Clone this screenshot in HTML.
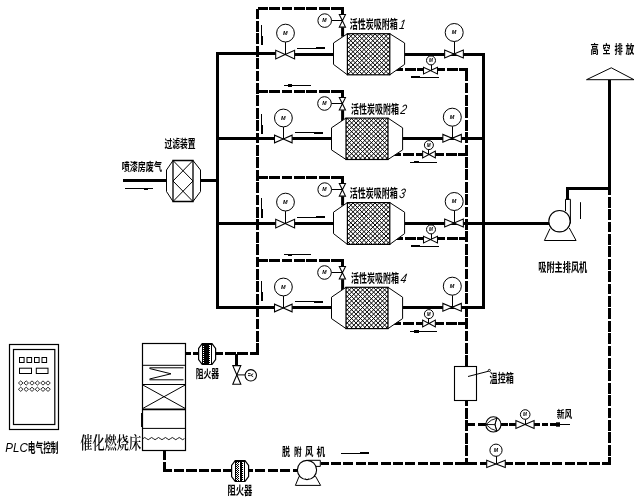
<!DOCTYPE html>
<html lang="zh">
<head>
<meta charset="utf-8">
<title>活性炭吸附脱附催化燃烧工艺流程图</title>
<style>
html,body{margin:0;padding:0;background:#fff;}
body{width:642px;height:502px;overflow:hidden;}
svg{display:block;will-change:transform;}
text{font-family:"Liberation Sans","Noto Sans CJK SC",sans-serif;fill:#000;font-weight:700;}
</style>
</head>
<body>
<svg width="642" height="502" viewBox="0 0 642 502">
<rect width="642" height="502" fill="#fff"/>
<g shape-rendering="crispEdges">
<rect x="123.00" y="179.00" width="43.00" height="3"/>
<rect x="201.00" y="179.00" width="16.50" height="3"/>
<rect x="216.00" y="52.00" width="3" height="257.00"/>
<rect x="482.00" y="53.00" width="3" height="256.00"/>
<rect x="217.50" y="52.00" width="58.20" height="3"/>
<rect x="294.60" y="53.00" width="38.90" height="3"/>
<rect x="404.60" y="53.00" width="78.90" height="3"/>
<rect x="217.50" y="137.00" width="57.00" height="3"/>
<rect x="292.10" y="137.00" width="39.40" height="3"/>
<rect x="402.60" y="137.00" width="80.90" height="3"/>
<rect x="217.50" y="222.00" width="58.20" height="3"/>
<rect x="294.60" y="222.00" width="38.90" height="3"/>
<rect x="404.60" y="222.00" width="78.90" height="3"/>
<rect x="217.50" y="306.00" width="57.00" height="3"/>
<rect x="292.10" y="306.00" width="39.40" height="3"/>
<rect x="402.60" y="306.00" width="80.90" height="3"/>
<rect x="483.50" y="222.00" width="65.00" height="3"/>
<rect x="566.00" y="187.00" width="3" height="12.50"/>
<rect x="566.00" y="187.00" width="45.00" height="3"/>
<rect x="608.00" y="80.00" width="3" height="114.70"/>
</g>
<path d="M257.50 7.00V355.00" stroke="#000" stroke-width="3" stroke-dasharray="10.75 1.65" stroke-dashoffset="10.80" fill="none" shape-rendering="crispEdges"/>
<path d="M257.50 8.50H344.00" stroke="#000" stroke-width="3" stroke-dasharray="10.75 1.65" stroke-dashoffset="0.70" fill="none" shape-rendering="crispEdges"/>
<rect x="341.00" y="7.00" width="3" height="7.50"/>
<rect x="341.10" y="27.30" width="3" height="9.40"/>
<path d="M395.60 69.50H423.50" stroke="#000" stroke-width="3" stroke-dasharray="10.75 1.65" stroke-dashoffset="3.00" fill="none" shape-rendering="crispEdges"/>
<path d="M437.50 69.50H468.00" stroke="#000" stroke-width="3" stroke-dasharray="10.75 1.65" stroke-dashoffset="3.00" fill="none" shape-rendering="crispEdges"/>
<path d="M257.50 91.50H344.00" stroke="#000" stroke-width="3" stroke-dasharray="10.75 1.65" stroke-dashoffset="0.70" fill="none" shape-rendering="crispEdges"/>
<rect x="341.00" y="90.00" width="3" height="7.40"/>
<rect x="341.10" y="110.20" width="3" height="10.90"/>
<path d="M394.20 154.50H422.65" stroke="#000" stroke-width="3" stroke-dasharray="10.75 1.65" stroke-dashoffset="3.50" fill="none" shape-rendering="crispEdges"/>
<path d="M435.35 154.50H468.00" stroke="#000" stroke-width="3" stroke-dasharray="10.75 1.65" stroke-dashoffset="1.75" fill="none" shape-rendering="crispEdges"/>
<path d="M257.50 177.50H344.00" stroke="#000" stroke-width="3" stroke-dasharray="10.75 1.65" stroke-dashoffset="0.70" fill="none" shape-rendering="crispEdges"/>
<rect x="341.00" y="176.00" width="3" height="7.50"/>
<rect x="341.10" y="196.30" width="3" height="9.30"/>
<path d="M395.60 238.50H423.50" stroke="#000" stroke-width="3" stroke-dasharray="10.75 1.65" stroke-dashoffset="3.00" fill="none" shape-rendering="crispEdges"/>
<path d="M437.50 238.50H468.00" stroke="#000" stroke-width="3" stroke-dasharray="10.75 1.65" stroke-dashoffset="3.00" fill="none" shape-rendering="crispEdges"/>
<path d="M257.50 260.50H344.00" stroke="#000" stroke-width="3" stroke-dasharray="10.75 1.65" stroke-dashoffset="0.70" fill="none" shape-rendering="crispEdges"/>
<rect x="341.00" y="259.00" width="3" height="7.40"/>
<rect x="341.10" y="279.20" width="3" height="11.10"/>
<path d="M394.20 323.50H422.65" stroke="#000" stroke-width="3" stroke-dasharray="10.75 1.65" stroke-dashoffset="3.50" fill="none" shape-rendering="crispEdges"/>
<path d="M435.35 323.50H468.00" stroke="#000" stroke-width="3" stroke-dasharray="10.75 1.65" stroke-dashoffset="1.75" fill="none" shape-rendering="crispEdges"/>
<path d="M466.50 68.00V366.00" stroke="#000" stroke-width="3" stroke-dasharray="10.75 1.65" stroke-dashoffset="10.20" fill="none" shape-rendering="crispEdges"/>
<path d="M466.50 400.50V465.00" stroke="#000" stroke-width="3" stroke-dasharray="10.75 1.65" stroke-dashoffset="4.90" fill="none" shape-rendering="crispEdges"/>
<path d="M185.50 353.50H198.50" stroke="#000" stroke-width="3" stroke-dasharray="10.75 1.65" stroke-dashoffset="4.80" fill="none" shape-rendering="crispEdges"/>
<path d="M216.00 353.50H259.00" stroke="#000" stroke-width="3" stroke-dasharray="10.75 1.65" stroke-dashoffset="3.50" fill="none" shape-rendering="crispEdges"/>
<rect x="235.00" y="354.00" width="3" height="12.00"/>
<path d="M164.50 450.50V472.00" stroke="#000" stroke-width="3" stroke-dasharray="10 2.4" stroke-dashoffset="0.70" fill="none" shape-rendering="crispEdges"/>
<path d="M163.00 470.50H231.00" stroke="#000" stroke-width="3" stroke-dasharray="10.4 1.95" stroke-dashoffset="1.40" fill="none" shape-rendering="crispEdges"/>
<path d="M249.00 470.50H298.00" stroke="#000" stroke-width="3" stroke-dasharray="10 2.4" stroke-dashoffset="6.00" fill="none" shape-rendering="crispEdges"/>
<path d="M320.80 463.50H487.00" stroke="#000" stroke-width="3" stroke-dasharray="10 2.4" stroke-dashoffset="2.30" fill="none" shape-rendering="crispEdges"/>
<path d="M505.00 463.50H611.00" stroke="#000" stroke-width="3" stroke-dasharray="10.2 2.2" stroke-dashoffset="2.40" fill="none" shape-rendering="crispEdges"/>
<path d="M609.50 194.70V465.00" stroke="#000" stroke-width="3" stroke-dasharray="10.75 1.65" stroke-dashoffset="10.30" fill="none" shape-rendering="crispEdges"/>
<g shape-rendering="crispEdges">
<rect x="465.00" y="423.00" width="10.00" height="3"/>
<rect x="477.50" y="423.00" width="8.50" height="3"/>
<rect x="501.00" y="423.00" width="7.00" height="3"/>
<rect x="509.30" y="423.00" width="6.50" height="3"/>
<rect x="534.30" y="423.00" width="5.20" height="3"/>
<rect x="541.50" y="423.00" width="6.30" height="3"/>
<rect x="550.00" y="423.00" width="6.00" height="3"/>
</g>
<path d="M347.40 33.70L333.50 43.00L333.50 64.40L347.40 74.80" fill="#fff" stroke="#000" stroke-width="1"/>
<path d="M389.80 33.70L404.60 43.00L404.60 64.40L389.80 74.80" fill="#fff" stroke="#000" stroke-width="1"/>
<clipPath id="mc0"><rect x="347.40" y="33.70" width="42.40" height="41.10"/></clipPath>
<path d="M304.20 33.70l41.10 41.10M308.60 33.70l41.10 41.10M313.00 33.70l41.10 41.10M317.40 33.70l41.10 41.10M321.80 33.70l41.10 41.10M326.20 33.70l41.10 41.10M330.60 33.70l41.10 41.10M335.00 33.70l41.10 41.10M339.40 33.70l41.10 41.10M343.80 33.70l41.10 41.10M348.20 33.70l41.10 41.10M352.60 33.70l41.10 41.10M357.00 33.70l41.10 41.10M361.40 33.70l41.10 41.10M365.80 33.70l41.10 41.10M370.20 33.70l41.10 41.10M374.60 33.70l41.10 41.10M379.00 33.70l41.10 41.10M383.40 33.70l41.10 41.10M387.80 33.70l41.10 41.10M392.20 33.70l41.10 41.10M349.00 33.70l-41.10 41.10M353.40 33.70l-41.10 41.10M357.80 33.70l-41.10 41.10M362.20 33.70l-41.10 41.10M366.60 33.70l-41.10 41.10M371.00 33.70l-41.10 41.10M375.40 33.70l-41.10 41.10M379.80 33.70l-41.10 41.10M384.20 33.70l-41.10 41.10M388.60 33.70l-41.10 41.10M393.00 33.70l-41.10 41.10M397.40 33.70l-41.10 41.10M401.80 33.70l-41.10 41.10M406.20 33.70l-41.10 41.10M410.60 33.70l-41.10 41.10M415.00 33.70l-41.10 41.10M419.40 33.70l-41.10 41.10M423.80 33.70l-41.10 41.10M428.20 33.70l-41.10 41.10M432.60 33.70l-41.10 41.10M437.00 33.70l-41.10 41.10M441.40 33.70l-41.10 41.10" clip-path="url(#mc0)" stroke="#000" stroke-width="1.0" fill="none"/>
<rect x="347.40" y="33.70" width="42.40" height="41.10" fill="none" stroke="#000" stroke-width="1.2"/>
<rect x="285.00" y="42.10" width="1" height="12.50"/>
<path d="M275.70 50.30L275.70 58.90L285.15 54.60Z" fill="#fff" stroke="#000" stroke-width="1.05"/>
<path d="M294.60 50.30L294.60 58.90L285.15 54.60Z" fill="#fff" stroke="#000" stroke-width="1.05"/>
<circle cx="285.50" cy="33.10" r="8.90" fill="#fff" stroke="#000" stroke-width="1.0"/>
<text x="285.30" y="35.08" font-size="5.50" style='font-style:italic;font-weight:700;' text-anchor="middle">M</text>
<rect x="454.00" y="41.50" width="1" height="12.50"/>
<path d="M444.65 50.10L444.65 57.90L454.00 54.00Z" fill="#fff" stroke="#000" stroke-width="1.05"/>
<path d="M463.35 50.10L463.35 57.90L454.00 54.00Z" fill="#fff" stroke="#000" stroke-width="1.05"/>
<circle cx="454.20" cy="32.50" r="9.00" fill="#fff" stroke="#000" stroke-width="1.0"/>
<text x="454.00" y="34.48" font-size="5.50" style='font-style:italic;font-weight:700;' text-anchor="middle">M</text>
<rect x="431.00" y="65.00" width="1" height="5.60"/>
<path d="M423.50 67.30L423.50 73.90L430.50 70.60Z" fill="#fff" stroke="#000" stroke-width="1.05"/>
<path d="M437.50 67.30L437.50 73.90L430.50 70.60Z" fill="#fff" stroke="#000" stroke-width="1.05"/>
<circle cx="431.00" cy="60.40" r="4.50" fill="#fff" stroke="#000" stroke-width="1.0"/>
<text x="430.80" y="62.06" font-size="4.60" style='font-style:italic;font-weight:700;' text-anchor="middle">M</text>
<rect x="331.40" y="20.00" width="11.00" height="1"/>
<path d="M339.30 14.50L345.50 14.50L342.40 20.80Z" fill="#fff" stroke="#000" stroke-width="1.05"/>
<path d="M339.30 27.10L345.50 27.10L342.40 20.80Z" fill="#fff" stroke="#000" stroke-width="1.05"/>
<circle cx="324.70" cy="20.60" r="6.80" fill="#fff" stroke="#000" stroke-width="1.0"/>
<text x="324.50" y="22.47" font-size="5.20" style='font-style:italic;font-weight:700;' text-anchor="middle">M</text>
<g shape-rendering="crispEdges">
<rect x="297.00" y="48.00" width="28.00" height="1"/>
<rect x="316.00" y="47.00" width="9.00" height="2"/>
<rect x="261.00" y="25.00" width="1" height="20.00"/>
<rect x="261.00" y="36.00" width="2" height="9.00"/>
<rect x="411.00" y="77.00" width="28.00" height="1"/>
<rect x="411.00" y="76.00" width="9.00" height="2"/>
</g>
<text x="349.70" y="28.50" font-size="12.50" textLength="48.10" lengthAdjust="spacingAndGlyphs">活性炭吸附箱</text>
<g transform="translate(398.70 28.80) skewX(-10)">
<text x="0.00" y="0.00" font-size="13.50" textLength="6.00" lengthAdjust="spacingAndGlyphs" style='font-style:italic;font-weight:400;'>1</text>
</g>
<path d="M346.00 118.10L331.50 127.80L331.50 149.90L346.00 159.50" fill="#fff" stroke="#000" stroke-width="1"/>
<path d="M388.00 118.10L402.60 127.80L402.60 149.90L388.00 159.50" fill="#fff" stroke="#000" stroke-width="1"/>
<clipPath id="mc1"><rect x="346.00" y="118.10" width="42.00" height="41.40"/></clipPath>
<path d="M302.80 118.10l41.40 41.40M307.20 118.10l41.40 41.40M311.60 118.10l41.40 41.40M316.00 118.10l41.40 41.40M320.40 118.10l41.40 41.40M324.80 118.10l41.40 41.40M329.20 118.10l41.40 41.40M333.60 118.10l41.40 41.40M338.00 118.10l41.40 41.40M342.40 118.10l41.40 41.40M346.80 118.10l41.40 41.40M351.20 118.10l41.40 41.40M355.60 118.10l41.40 41.40M360.00 118.10l41.40 41.40M364.40 118.10l41.40 41.40M368.80 118.10l41.40 41.40M373.20 118.10l41.40 41.40M377.60 118.10l41.40 41.40M382.00 118.10l41.40 41.40M386.40 118.10l41.40 41.40M390.80 118.10l41.40 41.40M347.60 118.10l-41.40 41.40M352.00 118.10l-41.40 41.40M356.40 118.10l-41.40 41.40M360.80 118.10l-41.40 41.40M365.20 118.10l-41.40 41.40M369.60 118.10l-41.40 41.40M374.00 118.10l-41.40 41.40M378.40 118.10l-41.40 41.40M382.80 118.10l-41.40 41.40M387.20 118.10l-41.40 41.40M391.60 118.10l-41.40 41.40M396.00 118.10l-41.40 41.40M400.40 118.10l-41.40 41.40M404.80 118.10l-41.40 41.40M409.20 118.10l-41.40 41.40M413.60 118.10l-41.40 41.40M418.00 118.10l-41.40 41.40M422.40 118.10l-41.40 41.40M426.80 118.10l-41.40 41.40M431.20 118.10l-41.40 41.40M435.60 118.10l-41.40 41.40M440.00 118.10l-41.40 41.40" clip-path="url(#mc1)" stroke="#000" stroke-width="1.0" fill="none"/>
<rect x="346.00" y="118.10" width="42.00" height="41.40" fill="none" stroke="#000" stroke-width="1.2"/>
<rect x="283.00" y="127.00" width="1" height="12.00"/>
<path d="M274.50 135.15L274.50 142.85L283.30 139.00Z" fill="#fff" stroke="#000" stroke-width="1.05"/>
<path d="M292.10 135.15L292.10 142.85L283.30 139.00Z" fill="#fff" stroke="#000" stroke-width="1.05"/>
<circle cx="283.40" cy="118.00" r="8.90" fill="#fff" stroke="#000" stroke-width="1.0"/>
<text x="283.20" y="119.98" font-size="5.50" style='font-style:italic;font-weight:700;' text-anchor="middle">M</text>
<rect x="452.00" y="126.20" width="1" height="12.10"/>
<path d="M442.85 134.40L442.85 142.20L452.10 138.30Z" fill="#fff" stroke="#000" stroke-width="1.05"/>
<path d="M461.35 134.40L461.35 142.20L452.10 138.30Z" fill="#fff" stroke="#000" stroke-width="1.05"/>
<circle cx="452.30" cy="117.20" r="9.00" fill="#fff" stroke="#000" stroke-width="1.0"/>
<text x="452.10" y="119.18" font-size="5.50" style='font-style:italic;font-weight:700;' text-anchor="middle">M</text>
<rect x="428.00" y="149.70" width="1" height="4.80"/>
<path d="M422.65 151.15L422.65 157.85L429.00 154.50Z" fill="#fff" stroke="#000" stroke-width="1.05"/>
<path d="M435.35 151.15L435.35 157.85L429.00 154.50Z" fill="#fff" stroke="#000" stroke-width="1.05"/>
<circle cx="428.90" cy="145.10" r="4.50" fill="#fff" stroke="#000" stroke-width="1.0"/>
<text x="428.70" y="146.76" font-size="4.60" style='font-style:italic;font-weight:700;' text-anchor="middle">M</text>
<rect x="331.20" y="103.00" width="11.20" height="1"/>
<path d="M339.30 97.40L345.50 97.40L342.40 103.70Z" fill="#fff" stroke="#000" stroke-width="1.05"/>
<path d="M339.30 110.00L345.50 110.00L342.40 103.70Z" fill="#fff" stroke="#000" stroke-width="1.05"/>
<circle cx="324.50" cy="103.50" r="6.80" fill="#fff" stroke="#000" stroke-width="1.0"/>
<text x="324.30" y="105.37" font-size="5.20" style='font-style:italic;font-weight:700;' text-anchor="middle">M</text>
<g shape-rendering="crispEdges">
<rect x="295.00" y="132.00" width="28.00" height="1"/>
<rect x="313.60" y="132.00" width="9.40" height="2"/>
<rect x="261.00" y="114.00" width="1" height="20.00"/>
<rect x="261.00" y="125.00" width="2" height="9.00"/>
<rect x="410.00" y="162.00" width="27.00" height="1"/>
<rect x="414.00" y="161.00" width="5.00" height="1"/>
<rect x="284.00" y="85.00" width="27.00" height="1"/>
<rect x="288.00" y="84.00" width="4.00" height="3"/>
</g>
<text x="350.90" y="113.56" font-size="12.00" textLength="48.10" lengthAdjust="spacingAndGlyphs">活性炭吸附箱</text>
<g transform="translate(399.90 113.80) skewX(-10)">
<text x="0.00" y="0.00" font-size="13.50" textLength="6.00" lengthAdjust="spacingAndGlyphs" style='font-style:italic;font-weight:400;'>2</text>
</g>
<path d="M347.40 202.60L333.50 212.20L333.50 233.60L347.40 244.40" fill="#fff" stroke="#000" stroke-width="1"/>
<path d="M389.80 202.60L404.60 212.20L404.60 233.60L389.80 244.40" fill="#fff" stroke="#000" stroke-width="1"/>
<clipPath id="mc2"><rect x="347.40" y="202.60" width="42.40" height="41.80"/></clipPath>
<path d="M304.20 202.60l41.80 41.80M308.60 202.60l41.80 41.80M313.00 202.60l41.80 41.80M317.40 202.60l41.80 41.80M321.80 202.60l41.80 41.80M326.20 202.60l41.80 41.80M330.60 202.60l41.80 41.80M335.00 202.60l41.80 41.80M339.40 202.60l41.80 41.80M343.80 202.60l41.80 41.80M348.20 202.60l41.80 41.80M352.60 202.60l41.80 41.80M357.00 202.60l41.80 41.80M361.40 202.60l41.80 41.80M365.80 202.60l41.80 41.80M370.20 202.60l41.80 41.80M374.60 202.60l41.80 41.80M379.00 202.60l41.80 41.80M383.40 202.60l41.80 41.80M387.80 202.60l41.80 41.80M392.20 202.60l41.80 41.80M349.00 202.60l-41.80 41.80M353.40 202.60l-41.80 41.80M357.80 202.60l-41.80 41.80M362.20 202.60l-41.80 41.80M366.60 202.60l-41.80 41.80M371.00 202.60l-41.80 41.80M375.40 202.60l-41.80 41.80M379.80 202.60l-41.80 41.80M384.20 202.60l-41.80 41.80M388.60 202.60l-41.80 41.80M393.00 202.60l-41.80 41.80M397.40 202.60l-41.80 41.80M401.80 202.60l-41.80 41.80M406.20 202.60l-41.80 41.80M410.60 202.60l-41.80 41.80M415.00 202.60l-41.80 41.80M419.40 202.60l-41.80 41.80M423.80 202.60l-41.80 41.80M428.20 202.60l-41.80 41.80M432.60 202.60l-41.80 41.80M437.00 202.60l-41.80 41.80M441.40 202.60l-41.80 41.80" clip-path="url(#mc2)" stroke="#000" stroke-width="1.0" fill="none"/>
<rect x="347.40" y="202.60" width="42.40" height="41.80" fill="none" stroke="#000" stroke-width="1.2"/>
<rect x="285.00" y="211.10" width="1" height="12.50"/>
<path d="M275.70 219.30L275.70 227.90L285.15 223.60Z" fill="#fff" stroke="#000" stroke-width="1.05"/>
<path d="M294.60 219.30L294.60 227.90L285.15 223.60Z" fill="#fff" stroke="#000" stroke-width="1.05"/>
<circle cx="285.50" cy="202.10" r="8.90" fill="#fff" stroke="#000" stroke-width="1.0"/>
<text x="285.30" y="204.08" font-size="5.50" style='font-style:italic;font-weight:700;' text-anchor="middle">M</text>
<rect x="454.00" y="210.50" width="1" height="12.50"/>
<path d="M444.65 219.10L444.65 226.90L454.00 223.00Z" fill="#fff" stroke="#000" stroke-width="1.05"/>
<path d="M463.35 219.10L463.35 226.90L454.00 223.00Z" fill="#fff" stroke="#000" stroke-width="1.05"/>
<circle cx="454.20" cy="201.50" r="9.00" fill="#fff" stroke="#000" stroke-width="1.0"/>
<text x="454.00" y="203.48" font-size="5.50" style='font-style:italic;font-weight:700;' text-anchor="middle">M</text>
<rect x="431.00" y="234.00" width="1" height="5.60"/>
<path d="M423.50 236.30L423.50 242.90L430.50 239.60Z" fill="#fff" stroke="#000" stroke-width="1.05"/>
<path d="M437.50 236.30L437.50 242.90L430.50 239.60Z" fill="#fff" stroke="#000" stroke-width="1.05"/>
<circle cx="431.00" cy="229.40" r="4.50" fill="#fff" stroke="#000" stroke-width="1.0"/>
<text x="430.80" y="231.06" font-size="4.60" style='font-style:italic;font-weight:700;' text-anchor="middle">M</text>
<rect x="331.40" y="189.00" width="11.00" height="1"/>
<path d="M339.30 183.50L345.50 183.50L342.40 189.80Z" fill="#fff" stroke="#000" stroke-width="1.05"/>
<path d="M339.30 196.10L345.50 196.10L342.40 189.80Z" fill="#fff" stroke="#000" stroke-width="1.05"/>
<circle cx="324.70" cy="189.60" r="6.80" fill="#fff" stroke="#000" stroke-width="1.0"/>
<text x="324.50" y="191.47" font-size="5.20" style='font-style:italic;font-weight:700;' text-anchor="middle">M</text>
<g shape-rendering="crispEdges">
<rect x="297.00" y="217.00" width="28.00" height="1"/>
<rect x="316.00" y="216.00" width="9.00" height="2"/>
<rect x="261.00" y="198.00" width="1" height="20.00"/>
<rect x="261.00" y="209.00" width="2" height="9.00"/>
<rect x="411.00" y="246.00" width="28.00" height="1"/>
<rect x="411.00" y="245.00" width="9.00" height="2"/>
</g>
<text x="349.70" y="197.54" font-size="12.20" textLength="48.10" lengthAdjust="spacingAndGlyphs">活性炭吸附箱</text>
<g transform="translate(398.70 197.80) skewX(-10)">
<text x="0.00" y="0.00" font-size="13.50" textLength="6.00" lengthAdjust="spacingAndGlyphs" style='font-style:italic;font-weight:400;'>3</text>
</g>
<path d="M346.00 287.30L331.50 297.20L331.50 318.60L346.00 328.60" fill="#fff" stroke="#000" stroke-width="1"/>
<path d="M388.00 287.30L402.60 297.20L402.60 318.60L388.00 328.60" fill="#fff" stroke="#000" stroke-width="1"/>
<clipPath id="mc3"><rect x="346.00" y="287.30" width="42.00" height="41.30"/></clipPath>
<path d="M302.80 287.30l41.30 41.30M307.20 287.30l41.30 41.30M311.60 287.30l41.30 41.30M316.00 287.30l41.30 41.30M320.40 287.30l41.30 41.30M324.80 287.30l41.30 41.30M329.20 287.30l41.30 41.30M333.60 287.30l41.30 41.30M338.00 287.30l41.30 41.30M342.40 287.30l41.30 41.30M346.80 287.30l41.30 41.30M351.20 287.30l41.30 41.30M355.60 287.30l41.30 41.30M360.00 287.30l41.30 41.30M364.40 287.30l41.30 41.30M368.80 287.30l41.30 41.30M373.20 287.30l41.30 41.30M377.60 287.30l41.30 41.30M382.00 287.30l41.30 41.30M386.40 287.30l41.30 41.30M390.80 287.30l41.30 41.30M347.60 287.30l-41.30 41.30M352.00 287.30l-41.30 41.30M356.40 287.30l-41.30 41.30M360.80 287.30l-41.30 41.30M365.20 287.30l-41.30 41.30M369.60 287.30l-41.30 41.30M374.00 287.30l-41.30 41.30M378.40 287.30l-41.30 41.30M382.80 287.30l-41.30 41.30M387.20 287.30l-41.30 41.30M391.60 287.30l-41.30 41.30M396.00 287.30l-41.30 41.30M400.40 287.30l-41.30 41.30M404.80 287.30l-41.30 41.30M409.20 287.30l-41.30 41.30M413.60 287.30l-41.30 41.30M418.00 287.30l-41.30 41.30M422.40 287.30l-41.30 41.30M426.80 287.30l-41.30 41.30M431.20 287.30l-41.30 41.30M435.60 287.30l-41.30 41.30M440.00 287.30l-41.30 41.30" clip-path="url(#mc3)" stroke="#000" stroke-width="1.0" fill="none"/>
<rect x="346.00" y="287.30" width="42.00" height="41.30" fill="none" stroke="#000" stroke-width="1.2"/>
<rect x="283.00" y="296.00" width="1" height="12.00"/>
<path d="M274.50 304.15L274.50 311.85L283.30 308.00Z" fill="#fff" stroke="#000" stroke-width="1.05"/>
<path d="M292.10 304.15L292.10 311.85L283.30 308.00Z" fill="#fff" stroke="#000" stroke-width="1.05"/>
<circle cx="283.40" cy="287.00" r="8.90" fill="#fff" stroke="#000" stroke-width="1.0"/>
<text x="283.20" y="288.98" font-size="5.50" style='font-style:italic;font-weight:700;' text-anchor="middle">M</text>
<rect x="452.00" y="295.20" width="1" height="12.10"/>
<path d="M442.85 303.40L442.85 311.20L452.10 307.30Z" fill="#fff" stroke="#000" stroke-width="1.05"/>
<path d="M461.35 303.40L461.35 311.20L452.10 307.30Z" fill="#fff" stroke="#000" stroke-width="1.05"/>
<circle cx="452.30" cy="286.20" r="9.00" fill="#fff" stroke="#000" stroke-width="1.0"/>
<text x="452.10" y="288.18" font-size="5.50" style='font-style:italic;font-weight:700;' text-anchor="middle">M</text>
<rect x="428.00" y="318.70" width="1" height="4.80"/>
<path d="M422.65 320.15L422.65 326.85L429.00 323.50Z" fill="#fff" stroke="#000" stroke-width="1.05"/>
<path d="M435.35 320.15L435.35 326.85L429.00 323.50Z" fill="#fff" stroke="#000" stroke-width="1.05"/>
<circle cx="428.90" cy="314.10" r="4.50" fill="#fff" stroke="#000" stroke-width="1.0"/>
<text x="428.70" y="315.76" font-size="4.60" style='font-style:italic;font-weight:700;' text-anchor="middle">M</text>
<rect x="331.20" y="272.00" width="11.20" height="1"/>
<path d="M339.30 266.40L345.50 266.40L342.40 272.70Z" fill="#fff" stroke="#000" stroke-width="1.05"/>
<path d="M339.30 279.00L345.50 279.00L342.40 272.70Z" fill="#fff" stroke="#000" stroke-width="1.05"/>
<circle cx="324.50" cy="272.50" r="6.80" fill="#fff" stroke="#000" stroke-width="1.0"/>
<text x="324.30" y="274.37" font-size="5.20" style='font-style:italic;font-weight:700;' text-anchor="middle">M</text>
<g shape-rendering="crispEdges">
<rect x="295.00" y="301.00" width="28.00" height="1"/>
<rect x="313.60" y="301.00" width="9.40" height="2"/>
<rect x="261.00" y="281.00" width="1" height="20.00"/>
<rect x="261.00" y="292.00" width="2" height="9.00"/>
<rect x="410.00" y="331.00" width="27.00" height="1"/>
<rect x="414.00" y="330.00" width="5.00" height="3"/>
<rect x="284.00" y="254.00" width="27.00" height="1"/>
<rect x="288.00" y="255.00" width="4.00" height="1"/>
</g>
<text x="350.90" y="283.00" font-size="12.50" textLength="48.10" lengthAdjust="spacingAndGlyphs">活性炭吸附箱</text>
<g transform="translate(399.90 283.30) skewX(-10)">
<text x="0.00" y="0.00" font-size="13.50" textLength="6.00" lengthAdjust="spacingAndGlyphs" style='font-style:italic;font-weight:400;'>4</text>
</g>
<path d="M173.00 160.50L166.50 170.00L166.50 191.50L173.00 201.50L193.00 201.50L200.50 191.50L200.50 170.00L193.00 160.50Z" fill="#fff" stroke="#000" stroke-width="1"/>
<path d="M173.00 160.50L193.00 160.50L193.00 201.50L173.00 201.50Z" fill="#fff" stroke="#000" stroke-width="1.3"/>
<path d="M173.00 160.50L193.00 181.00L173.00 201.50" fill="none" stroke="#000" stroke-width="1"/>
<path d="M193.00 160.50L173.00 181.00L193.00 201.50" fill="none" stroke="#000" stroke-width="1"/>
<text x="164.40" y="147.74" font-size="11.30" textLength="31.00" lengthAdjust="spacingAndGlyphs">过滤装置</text>
<text x="121.70" y="170.58" font-size="11.80" textLength="40.30" lengthAdjust="spacingAndGlyphs">喷漆房废气</text>
<g shape-rendering="crispEdges">
<rect x="125.00" y="188.00" width="28.00" height="1"/>
<rect x="144.00" y="189.00" width="4.00" height="1"/>
</g>
<path d="M586.50 79.70L611.30 67.80L634.00 79.70Z" fill="#fff" stroke="#000" stroke-width="1"/>
<text x="590.50" y="53.52" font-size="12.30" textLength="8.20" lengthAdjust="spacingAndGlyphs">高</text>
<text x="602.40" y="53.52" font-size="12.30" textLength="8.00" lengthAdjust="spacingAndGlyphs">空</text>
<text x="614.50" y="53.52" font-size="12.30" textLength="8.30" lengthAdjust="spacingAndGlyphs">排</text>
<text x="625.60" y="53.52" font-size="12.30" textLength="8.80" lengthAdjust="spacingAndGlyphs">放</text>
<path d="M550.00 228.60L544.40 240.50L576.10 240.50L569.30 228.00" fill="#fff" stroke="#000" stroke-width="1"/>
<circle cx="559.50" cy="221.20" r="10.70" fill="#fff" stroke="#000" stroke-width="1.1"/>
<path d="M565.50 211.00L565.50 199.30L570.40 199.30L570.40 223.60" fill="none" stroke="#000" stroke-width="1"/>
<path d="M580.50 202.20L580.50 219.00" fill="none" stroke="#000" stroke-width="1"/>
<text x="538.20" y="271.51" font-size="12.40" textLength="49.10" lengthAdjust="spacingAndGlyphs">吸附主排风机</text>
<rect x="142.5" y="343.5" width="43" height="107" fill="#fff" stroke="#000" stroke-width="1.2"/>
<path d="M142.50 365.30L185.50 365.30" fill="none" stroke="#000" stroke-width="1"/>
<path d="M142.50 384.50L185.50 384.50" fill="none" stroke="#000" stroke-width="1.2"/>
<path d="M142.50 409.40L185.50 409.40" fill="none" stroke="#000" stroke-width="1.6"/>
<path d="M142.50 428.40L185.50 428.40" fill="none" stroke="#000" stroke-width="1"/>
<path d="M149.50 367.80L183.50 367.80" fill="none" stroke="#000" stroke-width="1"/>
<path d="M149.50 368.50L171.00 373.80L149.50 379.00" fill="none" stroke="#000" stroke-width="1"/>
<path d="M149.50 379.80L183.50 379.80" fill="none" stroke="#000" stroke-width="1"/>
<path d="M142.50 384.80L185.50 408.60" fill="none" stroke="#000" stroke-width="1"/>
<path d="M142.50 408.60L185.50 384.80" fill="none" stroke="#000" stroke-width="1"/>
<rect x="141.05" y="413.00" width="1.5" height="14.00"/>
<path d="M143 438.6q1.72 -2.2 3.45 0q1.72 2.2 3.45 0q1.72 -2.2 3.45 0q1.72 2.2 3.45 0q1.72 -2.2 3.45 0q1.72 2.2 3.45 0q1.72 -2.2 3.45 0q1.72 2.2 3.45 0q1.72 -2.2 3.45 0q1.72 2.2 3.45 0q1.72 -2.2 3.45 0q1.72 2.2 3.45 0" fill="none" stroke="#000" stroke-width="0.9"/>
<text x="80.20" y="448.80" font-size="17.20" textLength="61.00" lengthAdjust="spacingAndGlyphs" style='font-weight:600;font-family:"Liberation Serif","Noto Serif CJK SC",serif;'>催化燃烧床</text>
<path d="M202.20 343.60L198.60 348.50L198.60 359.50L202.20 364.40L212.00 364.40L215.60 359.50L215.60 348.50L212.00 343.60Z" fill="#fff" stroke="#000" stroke-width="1.2"/>
<g shape-rendering="crispEdges">
<rect x="202.00" y="343.00" width="10" height="22" fill="#000"/>
<path d="M203.50 346V363" stroke="#fff" stroke-width="1" stroke-dasharray="1 1" fill="none"/>
<rect x="209.00" y="345" width="2" height="19" fill="#fff"/>
<path d="M209.50 346V363" stroke="#000" stroke-width="1" stroke-dasharray="1 1" fill="none"/>
</g>
<path d="M235.20 460.60L231.60 465.50L231.60 476.50L235.20 481.40L245.00 481.40L248.60 476.50L248.60 465.50L245.00 460.60Z" fill="#fff" stroke="#000" stroke-width="1.2"/>
<g shape-rendering="crispEdges">
<rect x="235.00" y="460.00" width="10" height="22" fill="#000"/>
<rect x="236.00" y="461.5" width="3.5" height="19.5" fill="#fff"/>
<path d="M236.50 462V481" stroke="#000" stroke-width="1" stroke-dasharray="1 1" fill="none"/>
<path d="M237.50 463V481" stroke="#000" stroke-width="1" stroke-dasharray="1 1" fill="none"/>
<path d="M238.50 462V481" stroke="#000" stroke-width="1" stroke-dasharray="1 1" fill="none"/>
<rect x="242.00" y="462" width="2" height="19" fill="#fff"/>
<path d="M242.50 463V480" stroke="#000" stroke-width="1" stroke-dasharray="1 1" fill="none"/>
</g>
<text x="195.70" y="377.86" font-size="11.20" textLength="23.50" lengthAdjust="spacingAndGlyphs">阻火器</text>
<text x="227.40" y="495.12" font-size="12.30" textLength="24.90" lengthAdjust="spacingAndGlyphs">阻火器</text>
<path d="M232.80 365.60L240.80 365.60L236.80 374.90Z" fill="#fff" stroke="#000" stroke-width="1.1"/>
<path d="M232.80 384.20L240.80 384.20L236.80 374.90Z" fill="#fff" stroke="#000" stroke-width="1.1"/>
<path d="M237.00 374.90L245.00 374.90" fill="none" stroke="#000" stroke-width="1"/>
<circle cx="250.80" cy="375.30" r="5.70" fill="#fff" stroke="#000" stroke-width="1.1"/>
<path d="M248.00 373.60L250.60 373.60" fill="none" stroke="#000" stroke-width="0.9"/>
<path d="M248.00 375.60L250.60 375.60" fill="none" stroke="#000" stroke-width="0.9"/>
<path d="M253.20 373.80L250.80 375.20L253.20 376.80" fill="none" stroke="#000" stroke-width="0.9"/>
<path d="M299.10 476.40L295.40 485.40L320.60 485.40L315.60 476.40Z" fill="#fff" stroke="#000" stroke-width="1"/>
<path d="M308.00 460.30L320.30 460.30L320.30 466.40L315.00 466.40" fill="#fff" stroke="#000" stroke-width="1"/>
<circle cx="307.00" cy="470.00" r="9.60" fill="#fff" stroke="#000" stroke-width="1.1"/>
<path d="M305.60 478.60L307.00 480.00L308.40 478.60" fill="none" stroke="#000" stroke-width="0.9"/>
<text x="282.00" y="455.61" font-size="11.60" textLength="8.10" lengthAdjust="spacingAndGlyphs">脱</text>
<text x="294.10" y="455.61" font-size="11.60" textLength="7.60" lengthAdjust="spacingAndGlyphs">附</text>
<text x="305.00" y="455.61" font-size="11.60" textLength="8.40" lengthAdjust="spacingAndGlyphs">风</text>
<text x="316.60" y="455.61" font-size="11.60" textLength="8.70" lengthAdjust="spacingAndGlyphs">机</text>
<g shape-rendering="crispEdges">
<rect x="340.50" y="452.50" width="28.50" height="1"/>
<rect x="360.00" y="451.50" width="9.00" height="2"/>
</g>
<rect x="454.5" y="366.5" width="22" height="34" fill="#fff" stroke="#000" stroke-width="1.1"/>
<path d="M468.00 376.50L488.60 371.20" fill="none" stroke="#000" stroke-width="1"/>
<circle cx="489.30" cy="370.50" r="1.10" fill="#fff" stroke="#000" stroke-width="0.9"/>
<text x="489.60" y="382.54" font-size="12.20" textLength="24.20" lengthAdjust="spacingAndGlyphs">温控箱</text>
<circle cx="493.40" cy="424.40" r="7.60" fill="#fff" stroke="#000" stroke-width="1.1"/>
<path d="M486 424.5L494.8 424.6L497 418.2M494.8 424.6L497 430.9M486 424.5Q491 419 497 418.2Q493.5 424.5 497 430.9Q491 430 486 424.5" fill="none" stroke="#000" stroke-width="0.9"/>
<path d="M515.90 420.50L515.90 428.50L525.00 424.50Z" fill="#fff" stroke="#000" stroke-width="1.05"/>
<path d="M534.10 420.50L534.10 428.50L525.00 424.50Z" fill="#fff" stroke="#000" stroke-width="1.05"/>
<rect x="525.00" y="419.50" width="1" height="5.00"/>
<circle cx="525.20" cy="414.50" r="4.80" fill="#fff" stroke="#000" stroke-width="1.0"/>
<text x="525.00" y="416.16" font-size="4.60" style='font-style:italic;font-weight:700;' text-anchor="middle">M</text>
<rect x="556" y="422.3" width="4" height="4.4" fill="#000"/>
<path d="M560.00 424.50L570.00 424.50" fill="none" stroke="#000" stroke-width="1"/>
<text x="556.80" y="418.23" font-size="10.60" textLength="15.40" lengthAdjust="spacingAndGlyphs">新风</text>
<rect x="496.00" y="456.00" width="1" height="7.50"/>
<path d="M486.70 460.20L486.70 467.60L496.00 463.90Z" fill="#fff" stroke="#000" stroke-width="1.05"/>
<path d="M505.30 460.20L505.30 467.60L496.00 463.90Z" fill="#fff" stroke="#000" stroke-width="1.05"/>
<circle cx="496.00" cy="450.20" r="6.10" fill="#fff" stroke="#000" stroke-width="1.0"/>
<text x="495.80" y="452.07" font-size="5.20" style='font-style:italic;font-weight:700;' text-anchor="middle">M</text>
<rect x="9.5" y="344.5" width="49" height="85" fill="#fff" stroke="#000" stroke-width="1.2"/>
<rect x="13.5" y="349.5" width="41.3" height="75" fill="#fff" stroke="#000" stroke-width="1.2"/>
<rect x="19.5" y="357.5" width="4.6" height="5" fill="#fff" stroke="#000" stroke-width="1"/>
<rect x="27" y="357.5" width="4.6" height="5" fill="#fff" stroke="#000" stroke-width="1"/>
<rect x="34.5" y="357.5" width="4.6" height="5" fill="#fff" stroke="#000" stroke-width="1"/>
<rect x="42" y="357.5" width="4.6" height="5" fill="#fff" stroke="#000" stroke-width="1"/>
<rect x="19.5" y="368.2" width="12" height="5.3" fill="#fff" stroke="#000" stroke-width="1"/>
<rect x="36.3" y="368.2" width="11.7" height="5.3" fill="#fff" stroke="#000" stroke-width="1"/>
<path d="M18.40 383.00L20.70 380.90L23.00 383.00L20.70 385.10Z" fill="#fff" stroke="#000" stroke-width="0.8"/>
<path d="M23.90 383.00L26.20 380.90L28.50 383.00L26.20 385.10Z" fill="#fff" stroke="#000" stroke-width="0.8"/>
<path d="M29.70 383.00L32.00 380.90L34.30 383.00L32.00 385.10Z" fill="#fff" stroke="#000" stroke-width="0.8"/>
<path d="M35.10 383.00L37.40 380.90L39.70 383.00L37.40 385.10Z" fill="#fff" stroke="#000" stroke-width="0.8"/>
<path d="M40.70 383.00L43.00 380.90L45.30 383.00L43.00 385.10Z" fill="#fff" stroke="#000" stroke-width="0.8"/>
<path d="M45.70 383.00L48.00 380.90L50.30 383.00L48.00 385.10Z" fill="#fff" stroke="#000" stroke-width="0.8"/>
<path d="M18.40 389.30L20.70 387.20L23.00 389.30L20.70 391.40Z" fill="#fff" stroke="#000" stroke-width="0.8"/>
<path d="M23.90 389.30L26.20 387.20L28.50 389.30L26.20 391.40Z" fill="#fff" stroke="#000" stroke-width="0.8"/>
<path d="M29.70 389.30L32.00 387.20L34.30 389.30L32.00 391.40Z" fill="#fff" stroke="#000" stroke-width="0.8"/>
<path d="M35.10 389.30L37.40 387.20L39.70 389.30L37.40 391.40Z" fill="#fff" stroke="#000" stroke-width="0.8"/>
<path d="M40.70 389.30L43.00 387.20L45.30 389.30L43.00 391.40Z" fill="#fff" stroke="#000" stroke-width="0.8"/>
<path d="M45.70 389.30L48.00 387.20L50.30 389.30L48.00 391.40Z" fill="#fff" stroke="#000" stroke-width="0.8"/>
<text x="5.30" y="452.20" font-size="13.00" textLength="22.50" lengthAdjust="spacingAndGlyphs" style='font-style:italic;font-weight:400;'>PLC</text>
<text x="27.70" y="451.68" font-size="12.70" textLength="30.90" lengthAdjust="spacingAndGlyphs">电气控制</text>
</svg>
</body>
</html>
